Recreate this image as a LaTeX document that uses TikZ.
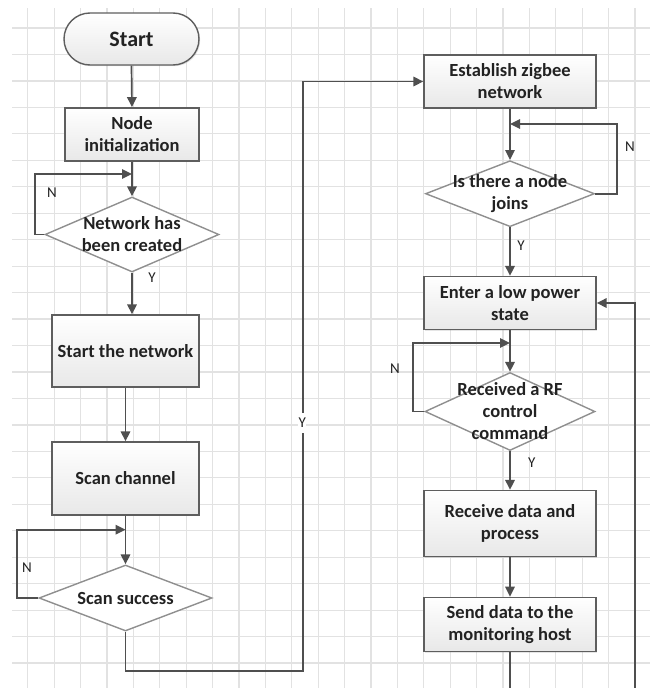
\documentclass[tikz,border=0pt]{standalone}
\usepackage{fontspec}
\setmainfont{Carlito}
\usetikzlibrary{arrows.meta,shapes.geometric,shadows}
\definecolor{gridc}{HTML}{E2E2E2}
\definecolor{linec}{HTML}{4F4F4F}
\definecolor{boxb}{HTML}{5E5E5E}
\definecolor{diab}{HTML}{8F8F8F}
\definecolor{boxbot}{HTML}{E8E8E8}
\definecolor{txtc}{HTML}{222222}
\tikzset{
  procbox/.style={rectangle, draw=boxb, line width=1.4pt, top color=white, bottom color=boxbot,
    drop shadow={opacity=0.2, shadow xshift=1.2pt, shadow yshift=-1.2pt},
    inner sep=0pt, align=center, text=txtc, font=\bfseries\fontsize{18.5}{22}\selectfont},
  dia/.style={diamond, draw=diab, line width=1.4pt, fill=white, inner sep=0pt},
  diatext/.style={align=center, text=txtc, font=\bfseries\fontsize{18.5}{22}\selectfont},
  arr/.style={draw=linec, line width=1.7pt, -{Triangle[length=10pt,width=9.5pt]}},
  lab/.style={text=txtc, font=\fontsize{15}{17}\selectfont, inner sep=1pt}
}
\begin{document}
\begin{tikzpicture}[x=1pt,y=-1pt]
\useasboundingbox (0,0) rectangle (650,688);
\clip (0,0) rectangle (650,688);
\fill[white] (0,0) rectangle (650,688);
% grid
\foreach \k in {0,...,23} {
  \draw[gridc, line width=1.2pt] ({27.7+26.4*\k},8) -- ({27.7+26.4*\k},688);
}
\foreach \k in {0,...,25} {
  \draw[gridc, line width=1.2pt] (12,{28+26.46*\k}) -- (650,{28+26.46*\k});
}
% left column
\node[procbox, rounded corners=26pt, minimum width=135pt, minimum height=52pt,
  font=\bfseries\fontsize{22}{26}\selectfont] (start) at (131.5,39) {Start};
\node[procbox, minimum width=134pt, minimum height=53pt] (init) at (132,134.3) {Node\\initialization};
\node[dia, minimum width=174pt, minimum height=75pt] (d1) at (132,234.5) {};
\node[diatext] at (d1) {Network has\\been created};
\node[procbox, minimum width=147pt, minimum height=72pt] (sn) at (125.5,351) {Start the network};
\node[procbox, minimum width=147pt, minimum height=73pt] (sc) at (125.5,478.5) {Scan channel};
\node[dia, minimum width=173pt, minimum height=66pt] (d2) at (125.5,598) {};
\node[diatext] at (d2) {Scan success};
% right column
\node[procbox, minimum width=172pt, minimum height=53pt] (est) at (510,81.5) {Establish zigbee\\network};
\node[dia, minimum width=169pt, minimum height=66pt] (d3) at (510,193.7) {};
\node[diatext] at (d3) {Is there a node\\joins};
\node[procbox, minimum width=172pt, minimum height=53pt] (ent) at (510,303) {Enter a low power\\state};
\node[dia, minimum width=170pt, minimum height=78pt] (d4) at (510,411.5) {};
\node[diatext] at (d4) {Received a RF\\control\\command};
\node[procbox, minimum width=172pt, minimum height=66pt] (rec) at (510,523.5) {Receive data and\\process};
\node[procbox, minimum width=172pt, minimum height=54pt] (snd) at (510,624.3) {Send data to the\\monitoring host};
% junction coordinates
\coordinate (j1) at (132,174);
\coordinate (j2) at (125.5,529.7);
\coordinate (j3) at (510,124);
\coordinate (j4) at (510,343);
\coordinate (c1) at (302.7,670.7);
\coordinate (c2) at (635,705);
% connectors
\draw[arr] (start.south) -- (init.north);
\draw[arr] (init.south) -- (d1.north);
\draw[arr] (d1.west) -- ++(-9.5,0) |- (j1);
\draw[arr] (d1.south) -- (d1.south |- sn.north);
\draw[arr] (sn.south) -- (sc.north);
\draw[arr] (sc.south) -- (d2.north);
\draw[arr] (d2.west) -- ++(-21.3,0) |- (j2);
\draw[arr] (d2.south) |- (c1) |- (est.west);
\draw[arr] (est.south) -- (d3.north);
\draw[arr] (d3.east) -- ++(22,0) |- (j3);
\draw[arr] (d3.south) -- (ent.north);
\draw[arr] (ent.south) -- (d4.north);
\draw[arr] (d4.west) -- ++(-11,0) |- (j4);
\draw[arr] (d4.south) -- (rec.north);
\draw[arr] (rec.south) -- (snd.north);
\draw[arr] (snd.south) |- (c2) |- (ent.east);
% labels
\node[lab] (n1) at (52,193) {N};
\node[lab] (y1) at (152,278) {Y};
\node[lab] (n2) at (27,568) {N};
\node[lab, fill=white, inner xsep=0.5pt, inner ysep=5pt] (y2) at (302.2,423) {Y};
\node[lab] (n3) at (630,147) {N};
\node[lab] (y3) at (521,246) {Y};
\node[lab] (n4) at (395,369) {N};
\node[lab] (y4) at (531.7,463) {Y};
\end{tikzpicture}
\end{document}
